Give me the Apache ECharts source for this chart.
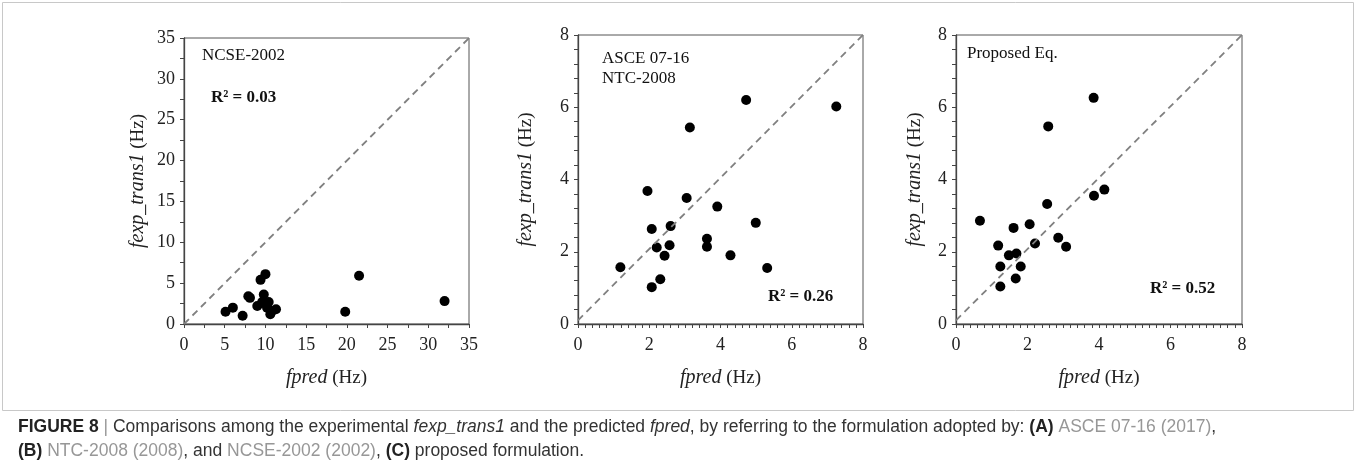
<!DOCTYPE html>
<html>
<head>
<meta charset="utf-8">
<script src="https://cdn.jsdelivr.net/npm/echarts@6/dist/echarts.min.js"></script>
<style>
  html, body { margin: 0; padding: 0; background: #fff; }
  #chart { width: 1357px; height: 471px; }
</style>
</head>
<body>
<div id="chart"></div>
<script>
// panel A: NCSE-2002
var ncseX = [5.1, 6.0, 7.2, 7.9, 8.1, 9.0, 9.4, 9.8, 10.0, 9.6, 10.4, 10.1, 10.2, 10.6, 10.8, 11.3, 19.8, 21.5, 32.0];
var ncseY = [1.5, 2.0, 1.0, 3.4, 3.2, 2.2, 5.4, 3.6, 6.1, 2.7, 2.7, 2.4, 2.0, 1.2, 1.6, 1.8, 1.5, 5.9, 2.8];
// panel B: ASCE 07-16 / NTC-2008
var asceX = [1.19, 1.95, 2.07, 2.07, 2.21, 2.31, 2.43, 2.57, 2.60, 3.05, 3.14, 3.62, 3.62, 3.91, 4.28, 4.72, 4.99, 5.31, 7.25];
var asceY = [1.57, 3.68, 2.63, 1.02, 2.12, 1.24, 1.89, 2.18, 2.71, 3.49, 5.44, 2.36, 2.14, 3.25, 1.90, 6.20, 2.80, 1.55, 6.02];
// panel C: proposed
var propX = [0.67, 1.18, 1.24, 1.24, 1.48, 1.61, 1.69, 1.67, 1.81, 2.06, 2.21, 2.55, 2.58, 2.86, 3.08, 3.85, 3.86, 4.15];
var propY = [2.86, 2.17, 1.59, 1.04, 1.90, 2.66, 1.95, 1.26, 1.59, 2.76, 2.23, 3.32, 5.47, 2.39, 2.14, 6.26, 3.55, 3.72];

var ticksA = [0, 5, 10, 15, 20, 25, 30, 35];
var ticksBC = [0, 2, 4, 6, 8];

var serif = '"Liberation Serif", "DejaVu Serif", serif';
var sans = '"Liberation Sans", Arial, sans-serif';

function pairs(xs, ys) {
    return xs.map(function (x, i) { return [x, ys[i]]; });
}

function axis(type, idx, ticks, minorSplit, nameGap) {
    var isX = type === 'x';
    return {
        type: 'value',
        gridIndex: idx,
        min: ticks[0],
        max: ticks[ticks.length - 1],
        interval: ticks[1] - ticks[0],
        nameLocation: 'middle',
        nameGap: nameGap,
        name: isX ? '{i|fpred} (Hz)' : '{i|fexp_trans1} (Hz)',
        nameRotate: isX ? 0 : 90,
        nameTextStyle: {
            color: '#222',
            fontFamily: serif,
            fontSize: 19,
            rich: {
                i: {fontStyle: 'italic', fontFamily: serif, fontSize: 20, color: '#222'}
            }
        },
        axisLine: {show: true, lineStyle: {color: '#444', width: 1.3}},
        axisTick: {show: true, inside: false, length: 4, lineStyle: {color: '#444'}},
        minorTick: {show: true, splitNumber: minorSplit, length: 4, lineStyle: {color: '#444'}},
        axisLabel: {
            color: '#222',
            fontFamily: serif,
            fontSize: 18,
            margin: isX ? 12 : 9
        },
        splitLine: {show: false}
    };
}

var chart = echarts.init(document.getElementById('chart'));

var dash = {color: '#808080', width: 1.8, type: [7, 5]};
var dot = {color: '#000', opacity: 1};
var capSize = 17.5;
var capRich = {
    b: {fontWeight: 'bold', fontFamily: sans, fontSize: capSize, fill: '#222'},
    i: {fontStyle: 'italic', fontFamily: sans, fontSize: capSize, fill: '#333'},
    g: {fontFamily: sans, fontSize: capSize, fill: '#979797'}
};

var option = {
    animation: false,
    backgroundColor: '#fff',
    grid: [
        {left: 184, top: 38, width: 285, height: 286, show: true, borderColor: '#555', borderWidth: 1},
        {left: 578, top: 35, width: 285, height: 289, show: true, borderColor: '#555', borderWidth: 1},
        {left: 956, top: 35, width: 286, height: 289, show: true, borderColor: '#555', borderWidth: 1}
    ],
    xAxis: [
        axis('x', 0, ticksA, 2, 44),
        axis('x', 1, ticksBC, 10, 44),
        axis('x', 2, ticksBC, 10, 44)
    ],
    yAxis: [
        axis('y', 0, ticksA, 2, 36),
        axis('y', 1, ticksBC, 5, 42),
        axis('y', 2, ticksBC, 5, 31)
    ],
    series: [
        {type: 'line', xAxisIndex: 0, yAxisIndex: 0, data: [[0, 0], [35, 35]], symbol: 'none', lineStyle: dash, silent: true},
        {type: 'line', xAxisIndex: 1, yAxisIndex: 1, data: [[0, 0.1], [8, 8]], symbol: 'none', lineStyle: dash, silent: true},
        {type: 'line', xAxisIndex: 2, yAxisIndex: 2, data: [[0, 0.1], [8, 8]], symbol: 'none', lineStyle: dash, silent: true},
        {type: 'scatter', xAxisIndex: 0, yAxisIndex: 0, data: pairs(ncseX, ncseY), symbolSize: 10, itemStyle: dot},
        {type: 'scatter', xAxisIndex: 1, yAxisIndex: 1, data: pairs(asceX, asceY), symbolSize: 10, itemStyle: dot},
        {type: 'scatter', xAxisIndex: 2, yAxisIndex: 2, data: pairs(propX, propY), symbolSize: 10, itemStyle: dot}
    ],
    graphic: [
        {type: 'rect', shape: {x: 2.5, y: 2.5, width: 1351, height: 408}, style: {fill: 'none', stroke: '#c8c8c8', lineWidth: 1}, silent: true},
        {type: 'text', left: 202, top: 47, style: {text: 'NCSE-2002', font: '17px ' + serif, fill: '#111'}},
        {type: 'text', left: 211, top: 89, style: {text: 'R² = 0.03', font: 'bold 17px ' + serif, fill: '#111'}},
        {type: 'text', left: 602, top: 50, style: {text: 'ASCE 07-16', font: '17px ' + serif, fill: '#111'}},
        {type: 'text', left: 602, top: 70, style: {text: 'NTC-2008', font: '17px ' + serif, fill: '#111'}},
        {type: 'text', left: 768, top: 288, style: {text: 'R² = 0.26', font: 'bold 17px ' + serif, fill: '#111'}},
        {type: 'text', left: 967, top: 45, style: {text: 'Proposed Eq.', font: '17px ' + serif, fill: '#111'}},
        {type: 'text', left: 1150, top: 280, style: {text: 'R² = 0.52', font: 'bold 17px ' + serif, fill: '#111'}},
        {
            type: 'text', left: 18, top: 418,
            style: {
                text: '{b|FIGURE 8} {g||} Comparisons among the experimental {i|fexp_trans1} and the predicted {i|fpred}, by referring to the formulation adopted by: {b|(A)} {g|ASCE 07-16 (2017)},',
                fontFamily: sans, fontSize: capSize, fill: '#333',
                rich: capRich
            }
        },
        {
            type: 'text', left: 18, top: 442,
            style: {
                text: '{b|(B)} {g|NTC-2008 (2008)}, and {g|NCSE-2002 (2002)}, {b|(C)} proposed formulation.',
                fontFamily: sans, fontSize: capSize, fill: '#333',
                rich: capRich
            }
        }
    ]
};

chart.setOption(option);
</script>
</body>
</html>
